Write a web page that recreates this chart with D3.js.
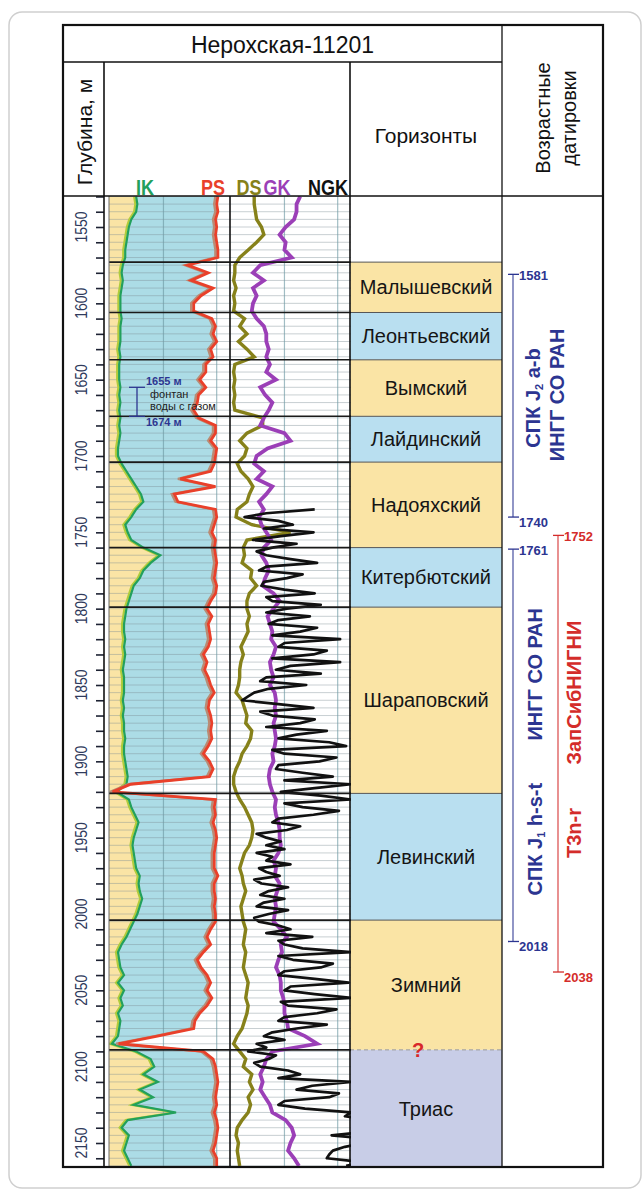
<!DOCTYPE html>
<html>
<head>
<meta charset="utf-8">
<script src="https://cdn.jsdelivr.net/npm/d3@7"></script>
<style>
  body { margin: 0; background: #fff; }
  svg text { font-family: "Liberation Sans", Arial, sans-serif; }
</style>
</head>
<body>
<svg id="log" width="643" height="1191"></svg>
<script>
// log samples every 5 m, starting at 1530 m
const depthStart = 1530, depthStep = 5;

// curve readings, in % of track width
const ikValues = [
  22,23,22,18,16,15,14,13,13,11,10,11,10,9,9,9,10,9,9,9,8,9,8,8,8,9,8,9,8,9,8,9,8,7,7,10,14,18,22,26,28,22,18,
  13,15,18,28,42,34,28,25,20,18,16,14,13,12,12,13,12,13,12,11,12,12,12,11,12,11,12,12,13,12,12,13,14,15,14,6,16,18,21,24,22,20,
  19,20,21,22,25,24,25,27,25,23,20,17,14,10,7,8,9,12,7,12,9,11,7,9,8,7,2,22,34,37,28,40,25,36,20,55,15,10,16,14,12,15,18
];
const psValues = [
  90,89,90,88,89,88,89,90,90,65,82,68,86,76,70,70,85,88,86,89,84,86,80,80,75,80,74,73,70,74,88,88,84,89,88,87,84,59,88,54,57,88,89,
  87,85,88,87,88,89,88,87,89,88,84,81,85,82,83,84,82,78,81,79,82,84,87,83,82,84,85,84,85,82,78,83,86,83,18,3,88,87,88,86,88,89,
  88,87,87,87,90,87,87,88,87,88,88,84,81,84,78,73,76,81,84,81,85,81,75,71,70,40,8,78,86,88,89,90,89,88,89,87,89,90,89,88,86,89,89
];
const dsValues = [
  20,20,21,22,26,28,22,15,8,4,4,3,5,3,4,3,12,8,14,7,14,20,4,3,4,3,4,3,4,27,27,14,8,14,12,6,9,15,19,16,14,6,5,
  18,50,14,11,12,10,18,17,22,16,14,14,16,14,15,12,9,11,9,8,8,7,5,10,12,14,13,18,17,14,10,8,5,3,3,5,8,12,15,18,19,18,
  16,12,10,8,10,11,13,11,9,10,11,13,12,11,13,12,11,13,15,14,13,15,14,12,10,6,3,8,13,11,18,16,19,15,17,15,10,6,5,7,6,7,8
];
const gkValues = [
  58,55,55,53,46,41,46,45,51,25,19,28,19,22,19,18,22,28,30,30,32,30,33,30,38,25,29,35,32,28,25,45,50,31,22,20,28,22,35,30,24,28,24,
  26,30,34,28,26,30,32,29,27,36,41,36,31,33,35,34,38,36,33,34,36,33,37,38,37,38,36,37,38,37,35,36,33,32,33,35,38,37,38,40,41,41,
  42,40,36,38,37,41,39,37,38,37,36,42,47,42,43,40,38,41,42,42,44,45,45,47,48,62,72,35,30,28,25,27,25,29,33,35,46,51,53,50,48,53,57
];

// NGK is only logged from 1735 m, read every 2.5 m
const ngkStart = 1735, ngkStep = 2.5;
const ngkValues = [
  70,30,12,40,52,28,69,42,19,55,35,22,30,50,72,30,24,60,47,28,26,45,70,30,35,75,
  47,30,66,40,32,72,58,35,91,45,40,80,69,35,91,50,38,75,30,25,63,32,20,15,10,40,
  69,25,35,70,58,30,80,55,40,82,96,35,45,88,74,40,38,60,85,45,100,70,42,75,100,45,
  60,90,69,40,35,58,47,22,30,42,30,45,22,35,30,50,24,30,41,20,26,48,32,25,45,28,
  22,48,32,20,24,40,50,30,68,40,45,60,100,40,52,85,75,45,40,70,98,50,45,70,100,42,
  48,88,72,45,40,80,55,35,28,45,22,30,15,38,32,20,25,48,58,40,100,68,55,90,82,45,
  40,62,100,95,115,120,110,115,84,118,112,95,85,82,80,110,96
];

const horizonNames = ["Малышевский","Леонтьевский","Вымский","Лайдинский","Надояхский","Китербютский","Шараповский","Левинский","Зимний","Триас"];
const horizonTops = [1573, 1606, 1637, 1674, 1704, 1760, 1799, 1921, 2004, 2089];
const horizonBase = 2166;
const horizonKind = ["sand","blue","sand","blue","sand","blue","sand","blue","sand","trias"];

const depthLabels = [1550,1600,1650,1700,1750,1800,1850,1900,1950,2000,2050,2100,2150];

const ageTops = [1581, 1761, 1752];
const ageBottoms = [1740, 2018, 2038];
const ageLab = ["ingg", "ingg", "zsnigni"];
const ageCaptions = [["СПК J","2"," a-b"], ["ИНГГ СО РАН"], ["ИНГГ СО РАН"], ["СПК J","1"," h-s-t"], ["ЗапСибНИГНИ"], ["Т3n-r"]];
const ageCaptionDepths = [1662, 1660, 1843, 1951, 1855, 1947];

const flowTop = 1655, flowBottom = 1674;

const depths = ikValues.map((v, i) => depthStart + i * depthStep);
const ngkDepths = ngkValues.map((v, i) => ngkStart + i * ngkStep);

const box = {left: 63, right: 603, top: 25, bottom: 1167, titleBottom: 62, headBottom: 196,
             depthCol: 104, logRight: 350, horizRight: 502};
const colors = {sand: "#fae4a5", blue: "#b9dff0", trias: "#c8cde7", fillBlue: "#acdce6",
                ik: "#22a05c", ik2: "#b1cc3c", ps: "#e9402a", ps2: "#b98b74",
                ds: "#86811a", gk: "#9b3fb7", ngk: "#111", ingg: "#2c3591", zsnigni: "#d42c2a"};

const svg = d3.select("#log");

const y = d3.scaleLinear().domain([1550, 2150]).range([227, 1143]);
const x1 = d3.scaleLinear().domain([0, 100]).range([109, 230]);
const x2 = d3.scaleLinear().domain([0, 100]).range([230, 351]);

// narrow font check
function hasFont(name) {
  const c = document.createElement("canvas").getContext("2d");
  c.font = "20px monospace";
  const a = c.measureText("NGK 1550 mmm").width;
  c.font = `20px "${name}", monospace`;
  return c.measureText("NGK 1550 mmm").width !== a;
}
const narrowOk = hasFont("Liberation Sans Narrow");
const narrowFamily = narrowOk ? '"Liberation Sans Narrow", "Arial Narrow", sans-serif' : '"Liberation Sans", Arial, sans-serif';
const narrowScale = narrowOk ? 1 : 0.82;

// card
svg.append("rect").attr("x", 9).attr("y", 12).attr("width", 632).attr("height", 1176)
  .attr("rx", 13).attr("fill", "#fff").attr("stroke", "#cfcfcf").attr("stroke-width", 1.5);

const defs = svg.append("defs");
defs.append("clipPath").attr("id", "logClip").append("rect")
  .attr("x", x1(0)).attr("y", box.headBottom).attr("width", x2(100) - x1(0)).attr("height", box.bottom - box.headBottom);
defs.append("clipPath").attr("id", "horClip").append("rect")
  .attr("x", box.logRight).attr("y", box.headBottom).attr("width", box.horizRight - box.logRight).attr("height", box.bottom - box.headBottom);

// horizons column
const hor = svg.append("g").attr("clip-path", "url(#horClip)");
hor.selectAll("rect").data(horizonNames).join("rect")
  .attr("x", box.logRight).attr("width", box.horizRight - box.logRight)
  .attr("y", (d, i) => y(horizonTops[i]))
  .attr("height", (d, i) => y(i < horizonTops.length - 1 ? horizonTops[i + 1] : horizonBase) - y(horizonTops[i]))
  .attr("fill", (d, i) => colors[horizonKind[i]]);
hor.selectAll("line").data(horizonTops).join("line")
  .attr("x1", box.logRight).attr("x2", box.horizRight)
  .attr("y1", d => y(d)).attr("y2", d => y(d))
  .attr("stroke", (d, i) => horizonKind[i] === "trias" ? "#9a9a9a" : "#555")
  .attr("stroke-width", 1)
  .attr("stroke-dasharray", (d, i) => horizonKind[i] === "trias" ? "4,3" : null);
hor.selectAll("text").data(horizonNames).join("text")
  .attr("x", (box.logRight + box.horizRight) / 2)
  .attr("y", (d, i) => (y(horizonTops[i]) + y(i < horizonTops.length - 1 ? horizonTops[i + 1] : horizonBase)) / 2)
  .attr("text-anchor", "middle").attr("dominant-baseline", "central")
  .attr("font-size", 20).attr("fill", "#151515")
  .text(d => d);

svg.append("text").attr("x", 418).attr("y", y(horizonTops[horizonTops.length - 1]))
  .attr("text-anchor", "middle").attr("dominant-baseline", "central")
  .attr("font-size", 20).attr("font-weight", "bold").attr("fill", "#d8282a").text("?");

// log tracks
const logs = svg.append("g").attr("clip-path", "url(#logClip)");
const yd = (v, i) => y(depths[i]);

logs.append("path").datum(ikValues)
  .attr("fill", colors.sand)
  .attr("d", d3.area().x0(x1(0)).x1(v => x1(v)).y(yd));
logs.append("path").datum(ikValues)
  .attr("fill", colors.fillBlue)
  .attr("d", d3.area().x0(v => x1(v)).x1((v, i) => x1(psValues[i])).y(yd));

// grid
const gridDepths = d3.range(1530, 2166, 5);
logs.append("g").selectAll("line").data(gridDepths).join("line")
  .attr("x1", x1(0)).attr("x2", x2(100))
  .attr("y1", d => y(d)).attr("y2", d => y(d))
  .attr("stroke", "#7d8c93").attr("stroke-opacity", 0.42).attr("stroke-width", 1);
const gridCols = [45, 89];
logs.append("g").selectAll("line").data(gridCols.map(x1).concat(gridCols.map(x2))).join("line")
  .attr("x1", d => d).attr("x2", d => d)
  .attr("y1", box.headBottom).attr("y2", box.bottom)
  .attr("stroke", "#6f9aa4").attr("stroke-opacity", 0.65).attr("stroke-width", 1.2);

const lineIn = (xs, dx) => d3.line().x(v => xs(v) + dx).y(yd);

logs.append("path").datum(ikValues).attr("fill", "none").attr("stroke", colors.ik2)
  .attr("stroke-width", 2.2).attr("d", lineIn(x1, -1.5));
logs.append("path").datum(ikValues).attr("fill", "none").attr("stroke", colors.ik)
  .attr("stroke-width", 2.2).attr("d", lineIn(x1, 0.5));
logs.append("path").datum(psValues).attr("fill", "none").attr("stroke", colors.ps2)
  .attr("stroke-width", 2.4).attr("d", lineIn(x1, -2.5));
logs.append("path").datum(psValues).attr("fill", "none").attr("stroke", colors.ps)
  .attr("stroke-width", 2.8).attr("d", lineIn(x1, 0));
logs.append("path").datum(dsValues).attr("fill", "none").attr("stroke", colors.ds)
  .attr("stroke-width", 3.4).attr("d", lineIn(x2, 0));
logs.append("path").datum(gkValues).attr("fill", "none").attr("stroke", colors.gk)
  .attr("stroke-width", 3.8).attr("d", lineIn(x2, 0));
logs.append("path").datum(ngkValues).attr("fill", "none").attr("stroke", colors.ngk)
  .attr("stroke-width", 2.7).attr("stroke-linejoin", "round")
  .attr("d", d3.line().x(v => x2(v)).y((v, i) => y(ngkDepths[i])));

// horizon boundaries across the tracks
logs.append("g").selectAll("line").data(horizonTops).join("line")
  .attr("x1", x1(0)).attr("x2", x2(100))
  .attr("y1", d => y(d)).attr("y2", d => y(d))
  .attr("stroke", "#1a1a1a").attr("stroke-width", 1.6);

svg.append("line").attr("x1", x1(0)).attr("x2", x1(0)).attr("y1", box.headBottom).attr("y2", box.bottom)
  .attr("stroke", "#666").attr("stroke-width", 1);

// gas-water flow interval
const flow = svg.append("g").attr("stroke", colors.ingg).attr("stroke-width", 1.3);
flow.append("line").attr("x1", 137).attr("x2", 137).attr("y1", y(flowTop)).attr("y2", y(flowBottom));
flow.append("line").attr("x1", 129).attr("x2", 145).attr("y1", y(flowTop)).attr("y2", y(flowTop));
flow.append("line").attr("x1", 129).attr("x2", 145).attr("y1", y(flowBottom)).attr("y2", y(flowBottom));
svg.append("text").attr("x", 146).attr("y", y(flowTop) - 2).attr("font-size", 11).attr("font-weight", "bold")
  .attr("fill", colors.ingg).text(flowTop + " м");
svg.append("text").attr("x", 146).attr("y", y(flowBottom) + 10).attr("font-size", 11).attr("font-weight", "bold")
  .attr("fill", colors.ingg).text(flowBottom + " м");
svg.append("text").attr("x", 150).attr("y", 398).attr("font-size", 11).attr("fill", "#222").text("фонтан");
svg.append("text").attr("x", 150).attr("y", 410).attr("font-size", 11).attr("fill", "#222").text("воды с газом");

// depth axis
const depthAxis = d3.axisLeft(y).tickValues(d3.range(1530, 2166, 10)).tickSize(8).tickFormat("");
svg.append("g").attr("transform", `translate(${box.depthCol},0)`).call(depthAxis)
  .call(g => g.select(".domain").remove())
  .call(g => g.selectAll("line").attr("stroke", "#1d2233").attr("stroke-width", 1.6));
svg.append("g").selectAll("text").data(depthLabels).join("text")
  .attr("transform", d => `translate(81,${y(d)}) rotate(-90) scale(${narrowScale},1)`)
  .attr("text-anchor", "middle").attr("dominant-baseline", "central")
  .style("font-family", narrowFamily).attr("font-size", 17).attr("fill", "#2f3a5c")
  .text(d => d);

// ages column
const age = svg.append("g");
const laneX = [513, 513, 558];
ageTops.forEach((top, i) => {
  const c = colors[ageLab[i]], xx = laneX[i];
  age.append("line").attr("x1", xx).attr("x2", xx).attr("y1", y(top)).attr("y2", y(ageBottoms[i]))
    .attr("stroke", c).attr("stroke-opacity", 0.8).attr("stroke-width", 1.3);
  [top, ageBottoms[i]].forEach((d, k) => {
    age.append("line").attr("x1", xx - 5).attr("x2", xx + 6).attr("y1", y(d)).attr("y2", y(d))
      .attr("stroke", c).attr("stroke-width", 1.3);
    age.append("text").attr("x", xx + 6).attr("y", y(d) + (k ? 5 : 1))
      .attr("dominant-baseline", "central").attr("font-size", 13).attr("font-weight", "bold")
      .attr("fill", c).text(d);
  });
});
const captionX = [533, 557, 535, 535, 574, 574];
const captionLab = ["ingg", "ingg", "ingg", "ingg", "zsnigni", "zsnigni"];
ageCaptions.forEach((parts, i) => {
  const t = age.append("text")
    .attr("transform", `translate(${captionX[i]},${y(ageCaptionDepths[i])}) rotate(-90)`)
    .attr("text-anchor", "middle").attr("dominant-baseline", "central")
    .attr("font-size", 20).attr("font-weight", "bold").attr("fill", colors[captionLab[i]]);
  t.append("tspan").text(parts[0]);
  if (parts.length > 1) {
    t.append("tspan").attr("font-size", 11).attr("dy", 6).text(parts[1]);
    t.append("tspan").attr("dy", -6).text(parts[2]);
  }
});

// table frame
const frame = svg.append("g").attr("stroke", "#111").attr("fill", "none");
frame.append("rect").attr("x", box.left).attr("y", box.top)
  .attr("width", box.right - box.left).attr("height", box.bottom - box.top).attr("stroke-width", 2.2);
frame.append("line").attr("x1", box.left).attr("x2", box.horizRight).attr("y1", box.titleBottom).attr("y2", box.titleBottom).attr("stroke-width", 1.3);
frame.append("line").attr("x1", box.horizRight).attr("x2", box.horizRight).attr("y1", box.top).attr("y2", box.bottom).attr("stroke-width", 1.3);
frame.append("line").attr("x1", box.left).attr("x2", box.right).attr("y1", box.headBottom).attr("y2", box.headBottom).attr("stroke-width", 1.6);
frame.append("line").attr("x1", box.depthCol).attr("x2", box.depthCol).attr("y1", box.titleBottom).attr("y2", box.bottom).attr("stroke-width", 1.6);
frame.append("line").attr("x1", box.logRight).attr("x2", box.logRight).attr("y1", box.titleBottom).attr("y2", box.bottom).attr("stroke-width", 1.6);
frame.append("line").attr("x1", x1(100)).attr("x2", x1(100)).attr("y1", box.headBottom).attr("y2", box.bottom).attr("stroke-width", 1.6);

// header texts
svg.append("text").attr("x", (box.left + box.horizRight) / 2).attr("y", (box.top + box.titleBottom) / 2 + 1)
  .attr("text-anchor", "middle").attr("dominant-baseline", "central").attr("font-size", 23).attr("fill", "#111")
  .text("Нерохская-11201");
svg.append("text").attr("transform", `translate(84,132) rotate(-90)`)
  .attr("text-anchor", "middle").attr("dominant-baseline", "central").attr("font-size", 21).attr("fill", "#111")
  .text("Глубина, м");
svg.append("text").attr("x", (box.logRight + box.horizRight) / 2).attr("y", 135)
  .attr("text-anchor", "middle").attr("dominant-baseline", "central").attr("font-size", 21).attr("fill", "#111")
  .text("Горизонты");
svg.append("text").attr("transform", `translate(543,118) rotate(-90)`)
  .attr("text-anchor", "middle").attr("dominant-baseline", "central").attr("font-size", 20).attr("fill", "#111")
  .text("Возрастные");
svg.append("text").attr("transform", `translate(569,118) rotate(-90)`)
  .attr("text-anchor", "middle").attr("dominant-baseline", "central").attr("font-size", 20).attr("fill", "#111")
  .text("датировки");

const curveNames = ["IK", "PS", "DS", "GK", "NGK"];
const curveColors = [colors.ik, colors.ps, colors.ds, colors.gk, colors.ngk];
const curveLabelX = [145, 213, 249, 277, 348];
svg.append("g").selectAll("text").data(curveNames).join("text")
  .attr("transform", (d, i) => `translate(${curveLabelX[i]},195) scale(${narrowScale},1)`)
  .attr("text-anchor", (d, i) => i === 4 ? "end" : "middle")
  .style("font-family", narrowFamily).attr("font-size", 22).attr("font-weight", "bold")
  .attr("fill", (d, i) => curveColors[i])
  .text(d => d);
</script>
</body>
</html>
